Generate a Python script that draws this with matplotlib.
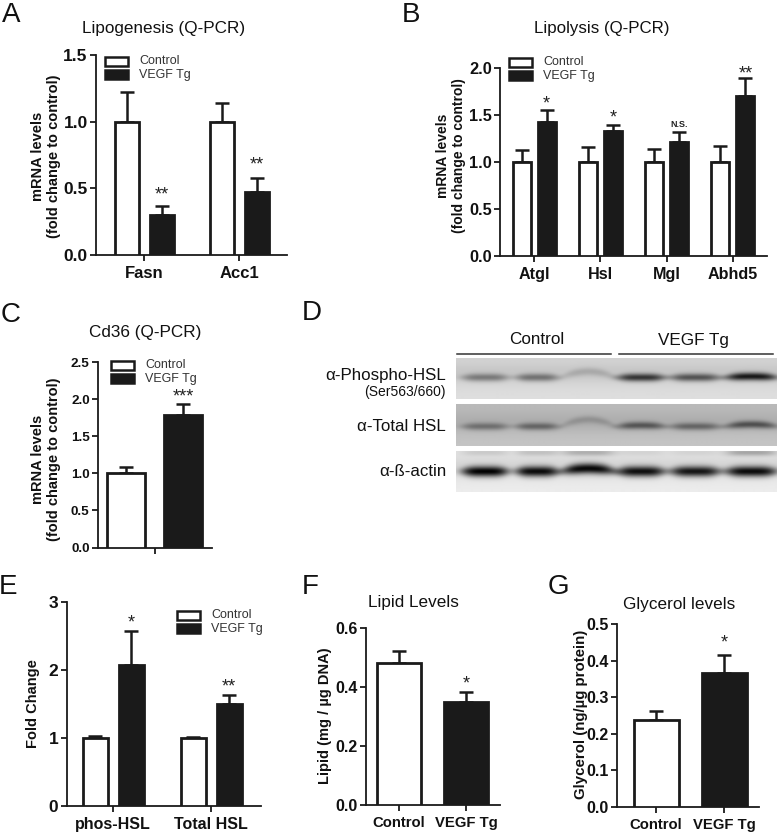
import numpy as np
import matplotlib
matplotlib.use("Agg")
import matplotlib.pyplot as plt
from matplotlib.patches import Rectangle

plt.rcParams["font.family"] = ["Liberation Sans", "DejaVu Sans"]

W, H = 777, 833
INK = "#1a1a1a"

# panel values
a_genes = ["Fasn", "Acc1"]
a_ctrl = [1.0, 1.0]
a_ctrl_err = [0.22, 0.14]
a_tg = [0.30, 0.47]
a_tg_err = [0.07, 0.11]
a_marks = [(0.465, "**"), (0.69, "**")]

b_genes = ["Atgl", "Hsl", "Mgl", "Abhd5"]
b_ctrl = [1.0, 1.0, 1.0, 1.0]
b_ctrl_err = [0.13, 0.16, 0.14, 0.17]
b_tg = [1.43, 1.33, 1.21, 1.70]
b_tg_err = [0.12, 0.06, 0.11, 0.19]
b_marks = [(1.64, "*"), (1.49, "*"), (1.40, "N.S."), (1.96, "**")]

c_ctrl = [1.0]
c_ctrl_err = [0.09]
c_tg = [1.79]
c_tg_err = [0.15]
c_marks = [(2.05, "***")]

e_groups = ["phos-HSL", "Total HSL"]
e_ctrl = [1.0, 1.0]
e_ctrl_err = [0.03, 0.02]
e_tg = [2.07, 1.50]
e_tg_err = [0.50, 0.13]
e_marks = [(2.72, "*"), (1.78, "**")]

f_ctrl = 0.48
f_ctrl_err = 0.043
f_tg = 0.35
f_tg_err = 0.033
f_mark = 0.417

g_ctrl = 0.238
g_ctrl_err = 0.024
g_tg = 0.365
g_tg_err = 0.05
g_mark = 0.454

# blot band strengths, one row per antibody, one value per lane
lane_left = [460, 514, 560, 615, 668, 723]
lane_right = [509, 559, 615, 665, 720, 777]
phospho_bands = [0.42, 0.46, 0.16, 0.78, 0.62, 0.92]
total_bands = [0.40, 0.46, 0.18, 0.55, 0.46, 0.58]
actin_bands = [1.05, 1.0, 1.0, 0.98, 0.95, 1.0]
actin_ghost = [0.10, 0.14, 0.22, 0.06, 0.06, 0.26]

fig = plt.figure(figsize=(W / 100, H / 100), dpi=100)


def px_text(x, y, s, **kw):
    kw.setdefault("ha", "center")
    kw.setdefault("va", "center")
    kw.setdefault("color", "#111111")
    return fig.text(x / W, 1 - y / H, s, **kw)


def make_axes(left, right, y0, ytop, ymax, yticks, tick0, spacing, size, decimals=1):
    ax = fig.add_axes([left / W, 1 - y0 / H, (right - left) / W, (y0 - ytop) / H])
    ax.set_ylim(0, ymax)
    ax.set_xlim((left - tick0) / spacing, (right - tick0) / spacing)
    ax.patch.set_alpha(0)
    for side in ["top", "right"]:
        ax.spines[side].set_visible(False)
    for side in ["left", "bottom"]:
        ax.spines[side].set_linewidth(1.3)
        ax.spines[side].set_color(INK)
    ax.set_yticks(yticks)
    ax.set_yticklabels([f"{t:.{decimals}f}" for t in yticks], fontweight="bold", fontsize=size)
    ax.tick_params(axis="y", length=4, width=1.3, color=INK, labelcolor="#111111", pad=2)
    ax.tick_params(axis="x", length=4, width=1.3, color=INK, labelcolor="#111111", pad=4)
    return ax


def draw_bars(ax, xs, vals, errs, width, filled):
    face = INK if filled else "white"
    ax.bar(xs, vals, width=width, color=face, edgecolor=INK, linewidth=2.0, zorder=3)
    ax.errorbar(xs, vals, yerr=[[0] * len(errs), errs], fmt="none", ecolor=INK,
                elinewidth=1.8, capsize=4.7, capthick=1.8, zorder=2)


def put_marks(ax, xs, marks, size=13):
    for x, (y, s) in zip(xs, marks):
        if s == "N.S.":
            ax.text(x, y, s, ha="center", va="center", fontsize=6.5, fontweight="bold", color="#222222")
        else:
            ax.text(x, y, s, ha="center", va="center_baseline", fontsize=size, color="#222222")


def legend(x, y):
    fig.add_artist(Rectangle((x / W, 1 - (y + 10) / H), 23 / W, 9 / H, transform=fig.transFigure,
                             facecolor="white", edgecolor=INK, linewidth=1.8))
    fig.add_artist(Rectangle((x / W, 1 - (y + 23) / H), 23 / W, 9 / H, transform=fig.transFigure,
                             facecolor=INK, edgecolor=INK, linewidth=1.8))
    px_text(x + 34, y + 5, "Control", ha="left", fontsize=9, color="#333333")
    px_text(x + 34, y + 19, "VEGF Tg", ha="left", fontsize=9, color="#333333")


def grouped(ax, n, ctrl, ctrl_err, tg, tg_err, marks, off, width):
    idx = np.arange(n)
    draw_bars(ax, idx - off, ctrl, ctrl_err, width, False)
    draw_bars(ax, idx + off, tg, tg_err, width, True)
    return idx + off


# A
ax = make_axes(96, 287, 255, 55, 1.5, [0, 0.5, 1.0, 1.5], 144, 95, 12.5)
tx = grouped(ax, 2, a_ctrl, a_ctrl_err, a_tg, a_tg_err, a_marks, 17.5 / 95, 24 / 95)
put_marks(ax, tx, a_marks)
ax.set_xticks(range(2))
ax.set_xticklabels(a_genes, fontweight="bold", fontsize=12)
px_text(164, 29, "Lipogenesis (Q-PCR)", fontsize=12.3)
px_text(46, 156, "mRNA levels\n(fold change to control)", rotation=90, fontsize=10.5,
        fontweight="bold", linespacing=1.15)
legend(105, 56)
px_text(11, 15, "A", fontsize=20)

# B
ax = make_axes(500, 767, 256, 68, 2.0, [0, 0.5, 1.0, 1.5, 2.0], 534, 66.3, 11.8)
tx = grouped(ax, 4, b_ctrl, b_ctrl_err, b_tg, b_tg_err, b_marks, 12.5 / 66.3, 18 / 66.3)
put_marks(ax, tx, b_marks)
ax.set_xticks(range(4))
ax.set_xticklabels(b_genes, fontweight="bold", fontsize=11.6)
px_text(602, 28, "Lipolysis (Q-PCR)", fontsize=12.2)
px_text(451, 156, "mRNA levels\n(fold change to control)", rotation=90, fontsize=10,
        fontweight="bold", linespacing=1.15)
legend(509, 57)
px_text(411, 15, "B", fontsize=20)

# C
ax = make_axes(98, 212, 547.5, 362, 2.5, [0, 0.5, 1.0, 1.5, 2.0, 2.5], 155, 100, 9.7)
tx = grouped(ax, 1, c_ctrl, c_ctrl_err, c_tg, c_tg_err, c_marks, 0.285, 0.38)
put_marks(ax, tx, c_marks)
ax.set_xticks([0])
ax.set_xticklabels([""])
px_text(145, 332, "Cd36 (Q-PCR)", fontsize=12.3)
px_text(46, 459, "mRNA levels\n(fold change to control)", rotation=90, fontsize=10.5,
        fontweight="bold", linespacing=1.15)
legend(111, 360)
px_text(11, 315, "C", fontsize=20)

# E
ax = make_axes(66.5, 261, 806, 602, 3, [0, 1, 2, 3], 113, 98, 12.5, decimals=0)
tx = grouped(ax, 2, e_ctrl, e_ctrl_err, e_tg, e_tg_err, e_marks, 18 / 98, 25 / 98)
put_marks(ax, tx, e_marks)
ax.set_xticks(range(2))
ax.set_xticklabels(e_groups, fontweight="bold", fontsize=11.5)
px_text(33, 704, "Fold Change", rotation=90, fontsize=10.5, fontweight="bold")
legend(177, 610)
px_text(8, 587, "E", fontsize=20)

# F
ax = make_axes(366, 500, 805, 628, 0.6, [0, 0.2, 0.4, 0.6], 399, 67, 11.5)
draw_bars(ax, [0], [f_ctrl], [f_ctrl_err], 44 / 67, False)
draw_bars(ax, [1], [f_tg], [f_tg_err], 44 / 67, True)
put_marks(ax, [1], [(f_mark, "*")])
ax.set_xticks([0, 1])
ax.set_xticklabels(["Control", "VEGF Tg"], fontweight="bold", fontsize=10.7)
px_text(413, 603, "Lipid Levels", fontsize=12.3)
px_text(325, 716, "Lipid (mg / µg DNA)", rotation=90, fontsize=10.5, fontweight="bold")
px_text(310, 587, "F", fontsize=20)

# G
ax = make_axes(617, 759, 807, 624, 0.5, [0, 0.1, 0.2, 0.3, 0.4, 0.5], 656, 68, 11.5)
draw_bars(ax, [0], [g_ctrl], [g_ctrl_err], 45 / 68, False)
draw_bars(ax, [1], [g_tg], [g_tg_err], 45 / 68, True)
put_marks(ax, [1], [(g_mark, "*")])
ax.set_xticks([0, 1])
ax.set_xticklabels(["Control", "VEGF Tg"], fontweight="bold", fontsize=10.7)
px_text(679, 604, "Glycerol levels", fontsize=12.3)
px_text(581, 714, "Glycerol (ng/µg protein)", rotation=90, fontsize=10.8, fontweight="bold")
px_text(558, 587, "G", fontsize=20)


# D: the blot, rendered from the band strengths
def blot_strip(top, bottom, strengths, bg, band_y, thick, arch, ghost=None):
    ys, xs = np.mgrid[top:bottom, 456:776]
    img = np.full(xs.shape, bg, dtype=float)
    img -= 16 * np.exp(-((ys - band_y + 4) / 10.0) ** 2)
    img += 10 * (ys - top) / (bottom - top)
    for k, s in enumerate(strengths):
        mid = (lane_left[k] + lane_right[k]) / 2
        half = (lane_right[k] - lane_left[k]) / 2
        t = (xs - mid) / half
        window = np.exp(-np.abs(t / 0.95) ** 4)
        centre = band_y - arch[k] * (1 - t ** 2)
        # bands sag at the lane edges and are fattest in the middle
        fat = thick * (0.75 + 0.35 * window)
        img -= s * (bg - 20) * window * np.exp(-((ys - centre) / fat) ** 2)
        if ghost is not None:
            img -= ghost[k] * bg * window * np.exp(-((ys - top - 1) / 3.5) ** 2)
    return np.clip(img, 0, 255)


blot = np.full((492 - 358, 776 - 456), 255.0)
blot[0:41] = blot_strip(358, 399, phospho_bands, 212, 377, 3.6, [0, 0, 6, 0, 0, 1])
blot[46:88] = blot_strip(404, 446, total_bands, 186, 426, 3.4, [0, 0, 7, 1, 0, 2])
blot[93:134] = blot_strip(451, 492, actin_bands, 226, 471, 4.8, [0, 0, 3, 0, 0, 0], actin_ghost)
ax = fig.add_axes([456 / W, 1 - 492 / H, 320 / W, 134 / H])
ax.imshow(blot, cmap="gray", vmin=0, vmax=255, aspect="auto", interpolation="bilinear")
ax.axis("off")

fig.add_artist(plt.Line2D([457 / W, 611 / W], [1 - 353.5 / H] * 2, color="#333333", linewidth=1.1))
fig.add_artist(plt.Line2D([619 / W, 773 / W], [1 - 353.5 / H] * 2, color="#333333", linewidth=1.1))
px_text(537, 340, "Control", fontsize=12.3)
px_text(693, 340, "VEGF Tg", fontsize=12.3)
px_text(446, 375, "α-Phospho-HSL", ha="right", fontsize=12.2)
px_text(446, 392, "(Ser563/660)", ha="right", fontsize=10)
px_text(446, 427, "α-Total HSL", ha="right", fontsize=12.2)
px_text(446, 471, "α-ß-actin", ha="right", fontsize=12.2)
px_text(312, 313, "D", fontsize=20)

fig.savefig("out.png", dpi=100)
